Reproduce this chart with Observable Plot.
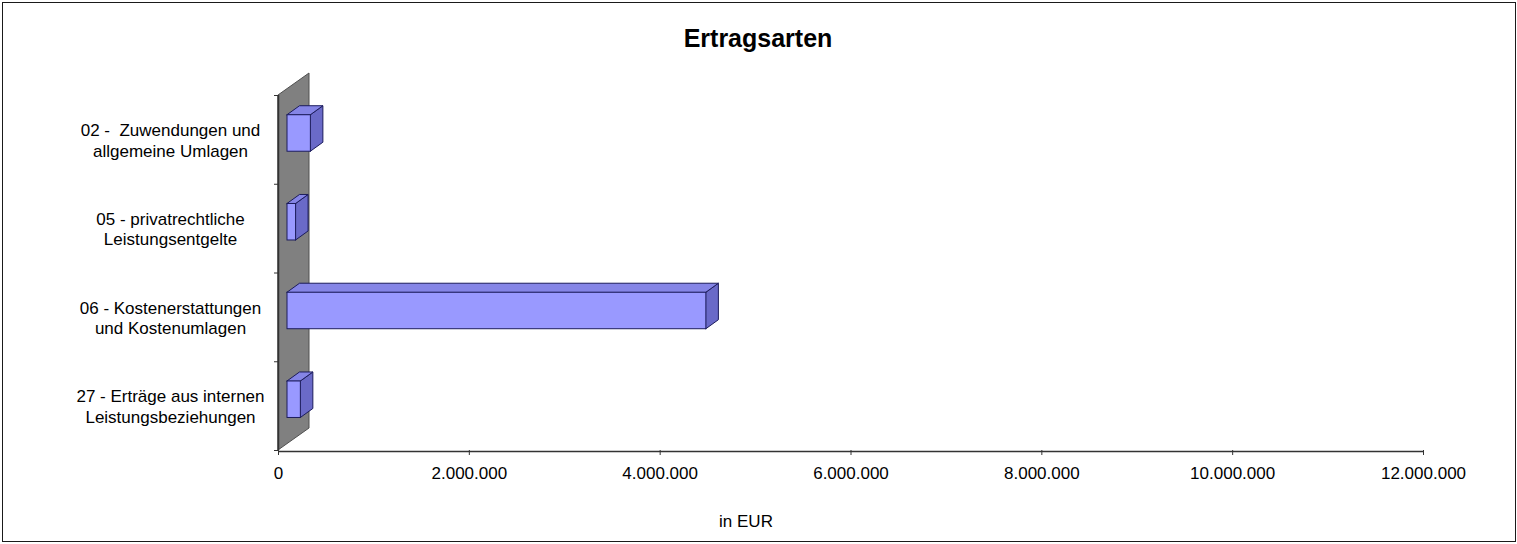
<!DOCTYPE html>
<html>
<head>
<meta charset="utf-8">
<script src="https://cdn.jsdelivr.net/npm/d3@7"></script>
<script src="https://cdn.jsdelivr.net/npm/@observablehq/plot@0.6"></script>
<style>
  body { margin: 0; background: #fff; }
  #wrap { position: relative; width: 1517px; height: 544px; font-family: "Liberation Sans", Arial, sans-serif; color: #000; }
  #border { position: absolute; left: 2px; top: 2px; width: 1514px; height: 540px; box-sizing: border-box; border: 1px solid #1a1a1a; pointer-events: none; }
  #chart { position: absolute; left: 0; top: 0; }
  .ttl { position: absolute; left: 558px; width: 400px; top: 26px; text-align: center; font-weight: bold; font-size: 25px; line-height: 25px; }
  .xl { position: absolute; left: 546px; width: 400px; top: 513px; text-align: center; font-size: 17px; line-height: 17px; }
</style>
</head>
<body>
<div id="wrap">
  <div id="chart"></div>
  <div class="ttl">Ertragsarten</div>
  <div class="xl">in EUR</div>
  <div id="border"></div>
</div>
<script>
// ---- data ----
const categories = [
  "02 -  Zuwendungen und\nallgemeine Umlagen",
  "05 - privatrechtliche\nLeistungsentgelte",
  "06 - Kostenerstattungen\nund Kostenumlagen",
  "27 - Erträge aus internen\nLeistungsbeziehungen"
];
const values = [245000, 90000, 4390000, 140000];
const xTicks = [0, 2000000, 4000000, 6000000, 8000000, 10000000, 12000000];

// ---- layout constants (pixels) ----
const W = 1517, H = 544, mL = 278, mR = 94, mT = 95, mB = 94;
const xMax = 12000000, nCat = categories.length;
const xpp = xMax / (W - mL - mR);   // value units per pixel
const ypp = nCat / (H - mT - mB);   // band units per pixel
const wallX = 31, wallY = 22;       // 3D wall depth
const gapX = 9, gapY = 6.4;         // bar offset into depth
const depX = 12.5, depY = 9;        // bar depth
const halfH = 18.25;                // half bar height

const de = d3.formatLocale({decimal: ",", thousands: ".", grouping: [3], currency: ["", " €"]});
const fmt = de.format(",.0f");

const bars = categories.map((c, k) => ({cat: c, value: values[k], pos: nCat - 1 - k}));
const geo = bars.map(b => {
  const x0 = gapX * xpp, x1 = b.value + gapX * xpp;
  const yc = b.pos + 0.5 + gapY * ypp;
  return {cat: b.cat, x0, x1, yb: yc - halfH * ypp, yt: yc + halfH * ypp, dx: depX * xpp, dy: depY * ypp};
});
const sides = geo.flatMap(g => [
  {cat: g.cat, x: g.x1, y1: g.yb, y2: g.yt},
  {cat: g.cat, x: g.x1 + g.dx, y1: g.yb + g.dy, y2: g.yt + g.dy}
]);
const tops = geo.flatMap(g => [
  {cat: g.cat, y: g.yt, x1: g.x0, x2: g.x1},
  {cat: g.cat, y: g.yt + g.dy, x1: g.x0 + g.dx, x2: g.x1 + g.dx}
]);
const wall = [
  {x: 0, y1: 0, y2: nCat},
  {x: wallX * xpp, y1: wallY * ypp, y2: nCat + wallY * ypp}
];

const edge = "#1c1c5c";
const chart = Plot.plot({
  width: W, height: H,
  marginLeft: mL, marginRight: mR, marginTop: mT, marginBottom: mB,
  style: {fontFamily: '"Liberation Sans", Arial, sans-serif', fontSize: "17px", background: "transparent", color: "#000"},
  x: {type: "linear", domain: [0, xMax], axis: null},
  y: {type: "linear", domain: [0, nCat], axis: null},
  marks: [
    Plot.areaY(wall, {x: "x", y1: "y1", y2: "y2", fill: "#808080", stroke: "#505050", strokeWidth: 1}),
    Plot.ruleX([0], {y1: 0, y2: nCat, stroke: "#333", strokeWidth: 1.5}),
    Plot.axisY({ticks: [0, 1, 2, 3, 4], tickSize: 4, tickFormat: () => "", label: null, stroke: "#333"}),
    Plot.areaY(sides, {x: "x", y1: "y1", y2: "y2", z: "cat", fill: "#6a6ac8", stroke: edge, strokeWidth: 1}),
    Plot.areaX(tops, {y: "y", x1: "x1", x2: "x2", z: "cat", fill: "#8585e6", stroke: edge, strokeWidth: 1}),
    Plot.rect(geo, {x1: "x0", x2: "x1", y1: "yb", y2: "yt", fill: "#9999ff", stroke: edge, strokeWidth: 1}),
    Plot.ruleY([0], {stroke: "#333", strokeWidth: 1.5, dy: 1}),
    Plot.axisX({ticks: xTicks, tickFormat: fmt, tickSize: 5, tickPadding: 11, fontSize: 17, label: null, stroke: "#333"}),
    Plot.text(bars, {x: 0, y: d => d.pos + 0.5, text: "cat", dx: -108, textAnchor: "middle", fontSize: 17, lineHeight: 1.2, fill: "#000"})
  ]
});
document.getElementById("chart").appendChild(chart);
</script>
</body>
</html>
